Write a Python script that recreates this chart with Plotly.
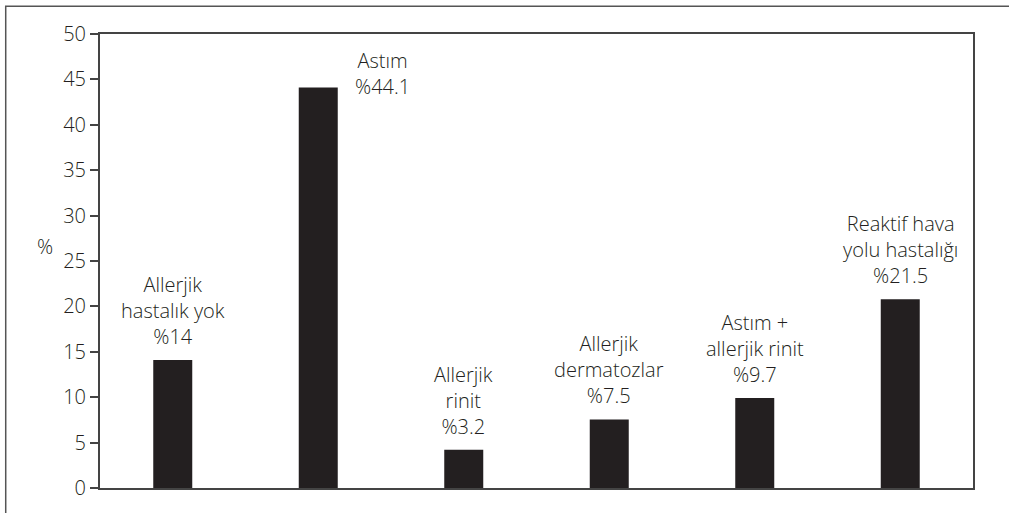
import plotly.graph_objects as go

categories = ["Allerjik hastalık yok", "Astım", "Allerjik rinit", "Allerjik dermatozlar",
              "Astım + allerjik rinit", "Reaktif hava yolu hastalığı"]
bar_values = [14.1, 44.1, 4.2, 7.55, 9.9, 20.8]
label_texts = ["Allerjik<br>hastalık yok<br>%14", "Astım<br>%44.1", "Allerjik<br>rinit<br>%3.2",
               "Allerjik<br>dermatozlar<br>%7.5", "Astım +<br>allerjik rinit<br>%9.7",
               "Reaktif hava<br>yolu hastalığı<br>%21.5"]
y_ticks = [0, 5, 10, 15, 20, 25, 30, 35, 40, 45, 50]

INK = "#231f20"
LINE = "#444444"
TXT = "#231f20"
FONT = "Open Sans"
W = 300

fig = go.Figure()
fig.add_trace(go.Bar(x=categories, y=bar_values, marker=dict(color=INK, line=dict(width=0)),
                     hoverinfo="skip"))

annotations = []
for i, (cat, v, t) in enumerate(zip(categories, bar_values, label_texts)):
    xshift = 64 if i == 1 else 0
    yshift = 8 if i != 1 else -14
    annotations.append(dict(x=cat, y=v, xref="x", yref="y", text=t, showarrow=False,
                            yanchor="bottom", xanchor="center", xshift=xshift, yshift=yshift,
                            font=dict(family=FONT, size=20, color=TXT, weight=W), align="center"))
annotations.append(dict(x=-0.063, y=0.531, xref="paper", yref="paper", text="%", showarrow=False,
                        xanchor="center", yanchor="middle",
                        font=dict(family=FONT, size=20, color=TXT, weight=W)))

fig.update_layout(
    width=1009, height=513,
    margin=dict(l=100, r=36, t=34, b=25),
    paper_bgcolor="white", plot_bgcolor="white",
    showlegend=False, bargap=0.732,
    annotations=annotations,
    shapes=[dict(type="path", xref="paper", yref="paper",
                 path="M -0.108,-0.2 L -0.108,1.061 L 1.2,1.061",
                 line=dict(color="#555555", width=1.5))],
    font=dict(family=FONT, size=20, color=TXT, weight=W),
)
fig.update_xaxes(showline=True, mirror=True, linecolor=LINE, linewidth=2,
                 showticklabels=False, ticks="", showgrid=False, zeroline=False)
fig.update_yaxes(range=[0, 50], tickvals=y_ticks, showline=True, mirror=True, linecolor=LINE,
                 linewidth=2, ticks="outside", ticklen=8, tickwidth=1.5, tickcolor=LINE,
                 showgrid=False, zeroline=False,
                 tickfont=dict(family=FONT, size=20, color=TXT, weight=W))

fig.write_html("out.html")
